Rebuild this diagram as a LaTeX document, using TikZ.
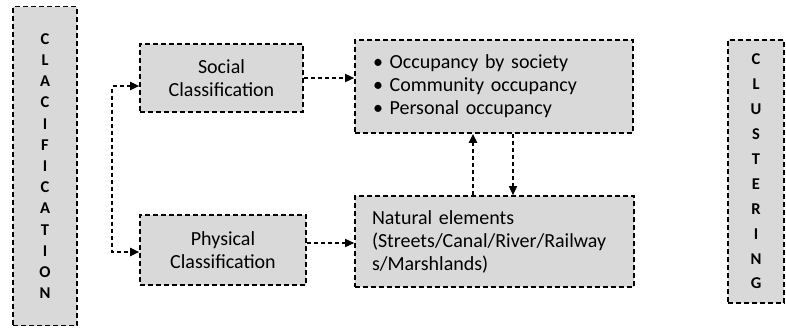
\documentclass[tikz,border=0pt]{standalone}
\usepackage{fontspec}
\setmainfont{Carlito}
\usetikzlibrary{arrows.meta}
\definecolor{boxgray}{RGB}{217, 217, 217}

\begin{document}
\begin{tikzpicture}[x=1pt, y=-1pt,
  box/.style={draw, fill=boxgray, line width=1.6pt, dash pattern=on 5pt off 3pt,
    inner sep=0pt, font=\fontsize{20}{23}\selectfont},
  letters/.style={font=\bfseries\fontsize{16.5}{#1}\selectfont, align=center},
  link/.style={line width=1.4pt, dash pattern=on 4pt off 3pt,
    -{Triangle[length=9pt, width=8pt]}}]
  \useasboundingbox (0, 0) rectangle (786, 327);

  % the two side bars
  \node[box, letters=21.2, minimum width=64, minimum height=319] (clac) at (45, 166)
    {C\\L\\A\\C\\I\\F\\I\\C\\A\\T\\I\\O\\N};
  \node[box, letters=24.9, minimum width=56, minimum height=263] (clus) at (756, 171.5)
    {C\\L\\U\\S\\T\\E\\R\\I\\N\\G};

  % classification boxes
  \node[box, align=center, minimum width=163, minimum height=68] (social) at (221.5, 78)
    {Social\\Classification};
  \node[box, align=center, minimum width=166, minimum height=70] (physical) at (223, 250)
    {Physical\\Classification};

  % result boxes
  \node[box, align=left, text width=242, inner xsep=18, minimum height=93] (occupancy) at (494, 86.5)
    {\textbullet\ Occupancy by society\\
     \textbullet\ Community occupancy\\
     \textbullet\ Personal occupancy};
  \node[box, align=left, text width=245, inner xsep=17, minimum height=91] (natural) at (494.5, 241.5)
    {Natural elements\\
     (Streets/Canal/River/Railway\\
     s/Marshlands)};

  % connectors
  \draw[link, line width=1.8pt, {Triangle[length=9pt, width=8pt]}-{Triangle[length=9pt, width=8pt]}]
    ([yshift=-8]social.west) -| ++(-27, 0) |- ([yshift=-2]physical.west);
  \draw[link] (social.east) -- (social.east -| occupancy.west);
  \draw[link] ([yshift=7]physical.east) -- ([yshift=7]physical.east -| natural.west);
  \draw[link, line width=2.2pt] (natural.north -| 473, 0) -- (occupancy.south -| 473, 0);
  \draw[link] (occupancy.south -| 513, 0) -- (natural.north -| 513, 0);
\end{tikzpicture}
\end{document}
